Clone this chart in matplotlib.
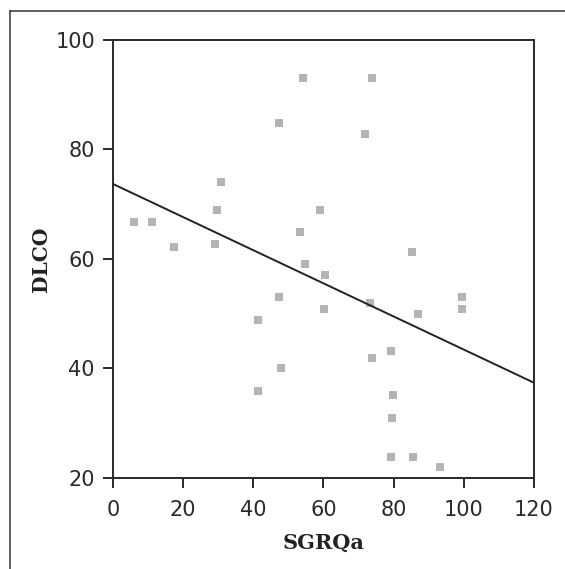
import matplotlib
matplotlib.use("Agg")
import matplotlib.pyplot as plt
from matplotlib.lines import Line2D

sgrqa = [54.1, 73.8, 47.3, 71.8, 30.7, 29.6, 58.9, 5.9, 11.0, 53.2, 17.3, 29.0,
         85.2, 54.7, 60.4, 47.3, 73.2, 99.5, 99.5, 60.1, 86.9, 41.3, 79.2, 73.7,
         47.8, 41.3, 79.8, 79.5, 79.2, 85.5, 93.2]
dlco = [93.1, 93.1, 84.9, 82.9, 74.1, 69.0, 69.0, 66.8, 66.8, 65.0, 62.1, 62.8,
        61.2, 59.0, 57.1, 53.1, 52.0, 53.1, 50.9, 50.9, 50.0, 48.9, 43.1, 42.0,
        40.1, 35.9, 35.2, 31.0, 23.9, 23.9, 22.0]
fit_x = [0, 120]
fit_y = [73.7, 37.4]
xticks = [0, 20, 40, 60, 80, 100, 120]
yticks = [20, 40, 60, 80, 100]

fig = plt.figure(figsize=(5.65, 5.69), dpi=100)
ax = fig.add_axes([0.2, 0.16, 0.745, 0.7697])

ax.scatter(sgrqa, dlco, marker='s', s=35, color='#b4b4b4', linewidths=0, zorder=3)
ax.plot(fit_x, fit_y, color='#222222', lw=1.4, zorder=4)

ax.set_xlim(0, 120)
ax.set_ylim(20, 100)
ax.set_xticks(xticks)
ax.set_yticks(yticks)
for s in ax.spines.values():
    s.set_color('#2a2a2a')
    s.set_linewidth(1.4)
ax.tick_params(direction='out', length=7, width=1.4, color='#2a2a2a',
               labelsize=15, labelcolor='#2a2a2a')
ax.tick_params(axis='x', pad=9)
ax.tick_params(axis='y', pad=6)
ax.set_xlabel('SGRQa', fontsize=15, fontweight='bold', family='DejaVu Serif',
              color='#222222', labelpad=9)
ax.set_ylabel('DLCO', fontsize=14.5, fontweight='bold', family='DejaVu Serif',
              color='#222222', labelpad=3)

# outer frame (top and left edges)
W, H = 565, 569
fig.add_artist(Line2D([10 / W, 1.0], [1 - 11 / H, 1 - 11 / H], transform=fig.transFigure,
                      color='#333333', lw=1.1))
fig.add_artist(Line2D([10 / W, 10 / W], [0.0, 1 - 11 / H], transform=fig.transFigure,
                      color='#333333', lw=1.1))

fig.savefig('out.png', dpi=100)
